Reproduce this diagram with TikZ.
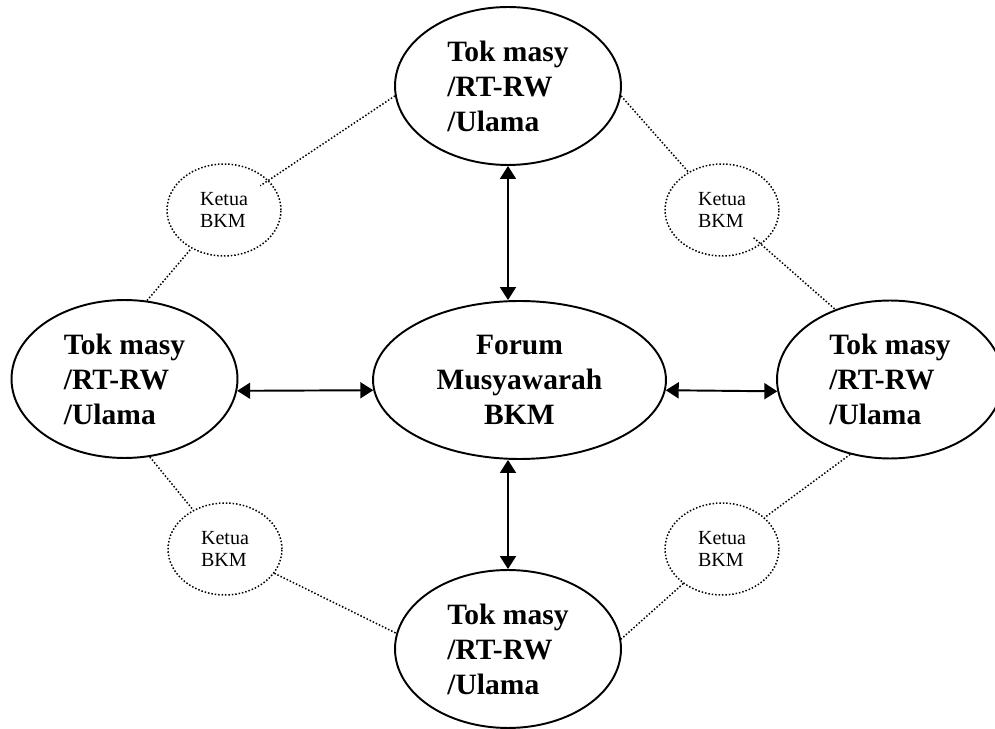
\documentclass[tikz,border=0pt]{standalone}
\usepackage{fontspec}
\setmainfont{Liberation Serif}
\usetikzlibrary{shapes.geometric,arrows.meta}

\begin{document}
\begin{tikzpicture}[x=0.02cm, y=-0.02cm,
    tokoh/.style={ellipse, draw, line width=1.1pt, minimum width=4.52cm, minimum height=3.16cm,
        align=left, font=\fontsize{16.8}{19.9}\selectfont\bfseries},
    forum/.style={tokoh, minimum width=5.86cm, align=center},
    ketua/.style={ellipse, draw, line width=0.85pt, dash pattern=on 0.85pt off 1.1pt,
        minimum width=2.28cm, minimum height=1.84cm, inner sep=0pt, align=left,
        font=\fontsize{11.4}{13}\selectfont},
    tie/.style={line width=0.85pt, dash pattern=on 0.85pt off 1.1pt},
    arr/.style={line width=1.1pt, >={Triangle[length=0.26cm,width=0.32cm]}, <->}]
    \clip (0, 0) rectangle (995, 729);

    % Forum in the middle
    \node [forum] (forum) at (519.5, 380) {Forum\\Musyawarah\\BKM};

    % Tokoh masyarakat round it
    \node [tokoh] (atas)  at (508, 86)    {Tok masy\\/RT-RW\\/Ulama};
    \node [tokoh] (kiri)  at (124.5, 379) {Tok masy\\/RT-RW\\/Ulama};
    \node [tokoh] (kanan) at (890, 379.5) {Tok masy\\/RT-RW\\/Ulama};
    \node [tokoh] (bawah) at (508, 649)   {Tok masy\\/RT-RW\\/Ulama};

    % Ketua BKM
    \node [ketua] (ka1) at (224, 210) {Ketua\\BKM};
    \node [ketua] (ka2) at (722, 210) {Ketua\\BKM};
    \node [ketua] (kb1) at (225, 549) {Ketua\\BKM};
    \node [ketua] (kb2) at (722, 549) {Ketua\\BKM};

    % Arrows
    \draw [arr] (atas.south) -- (atas.south |- forum.north);
    \draw [arr] (forum.south -| bawah.north) -- (bawah.north);
    \draw [arr] (kiri.-6) -- (forum.184);
    \draw [arr] (forum.-4) -- (kanan.186);

    % Dotted ties
    \draw [tie, shorten >=-0.2cm] (atas.185) -- (ka1);
    \draw [tie] (kiri.74) -- (ka1);
    \draw [tie] (atas.-5) -- (ka2);
    \draw [tie, shorten <=-0.2cm] (ka2) -- (kanan.128);
    \draw [tie] (kiri.-72) -- (kb1);
    \draw [tie] (kb1) -- (bawah.172);
    \draw [tie] (kanan.242) -- (kb2);
    \draw [tie] (kb2) -- (bawah.5);
\end{tikzpicture}
\end{document}
